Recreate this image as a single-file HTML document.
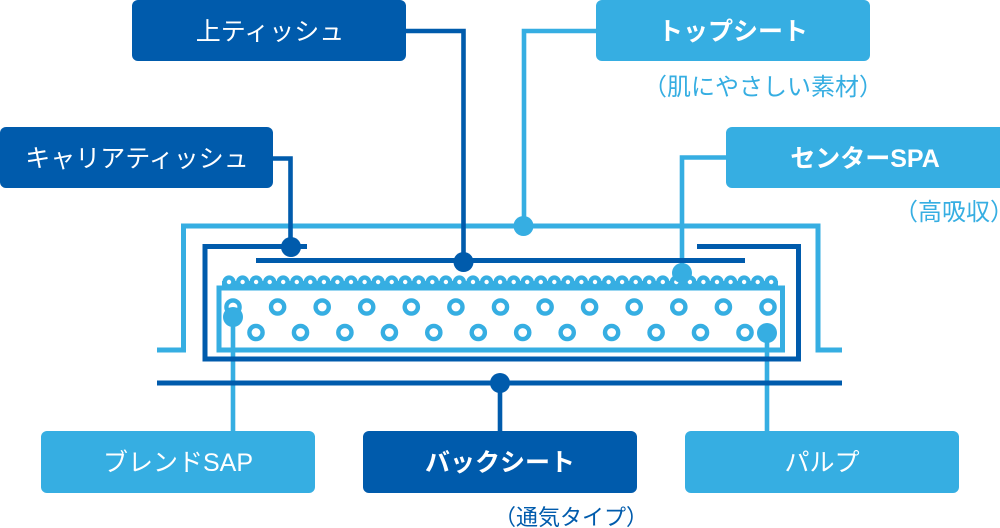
<!DOCTYPE html>
<html>
<head>
<meta charset="utf-8">
<style>
html,body{margin:0;padding:0;background:#fff;}
svg{display:block;}
text{font-family:"Liberation Sans","Noto Sans CJK JP",sans-serif;}
</style>
</head>
<body>
<svg width="1000" height="528" viewBox="0 0 1000 528" xmlns="http://www.w3.org/2000/svg">

<!-- Boxes -->
<rect x="132" y="0" width="274" height="61" rx="6" fill="#005bac"/>
<rect x="0" y="127" width="273" height="61" rx="6" fill="#005bac"/>
<rect x="596" y="0" width="274" height="61" rx="6" fill="#36aee2"/>
<rect x="726" y="127" width="280" height="61" rx="6" fill="#36aee2"/>
<rect x="41" y="431" width="274" height="62" rx="6" fill="#36aee2"/>
<rect x="363" y="431" width="274" height="62" rx="6" fill="#005bac"/>
<rect x="685" y="431" width="274" height="62" rx="6" fill="#36aee2"/>

<!-- Box labels -->
<g font-size="25" fill="#fff" text-anchor="middle">
  <text x="270" y="40">上ティッシュ</text>
  <text x="137" y="167">キャリアティッシュ</text>
  <text x="733" y="40" font-weight="bold">トップシート</text>
  <text x="865" y="167" font-weight="bold">センターSPA</text>
  <text x="178" y="471">ブレンドSAP</text>
  <text x="500" y="471" font-weight="bold">バックシート</text>
  <text x="822" y="471">パルプ</text>
</g>

<!-- Sub labels -->
<text x="643" y="95" font-size="24" fill="#36aee2">（肌にやさしい素材）</text>
<text x="894" y="220" font-size="24" fill="#36aee2">（高吸収）</text>
<text x="494" y="525" font-size="22" fill="#005bac">（通気タイプ）</text>

<!-- Light structural lines: top sheet -->
<polyline points="157,350 183.5,350 183.5,226 818,226 818,350 842,350" fill="none" stroke="#36aee2" stroke-width="5"/>

<!-- Inner container -->
<rect x="219" y="288" width="563.5" height="62" fill="none" stroke="#36aee2" stroke-width="5"/>
<rect x="222" y="281" width="556" height="8" fill="#36aee2"/>

<!-- Light connectors -->
<g fill="none" stroke="#36aee2" stroke-width="4.6">
  <polyline points="596,31 524,31 524,226"/>
  <polyline points="726,157.5 682,157.5 682,273"/>
  <line x1="233" y1="317" x2="233" y2="431"/>
  <line x1="767" y1="333" x2="767" y2="431"/>
</g>

<!-- Dark structural lines -->
<g fill="none" stroke="#005bac" stroke-width="5">
  <polyline points="307,246.5 205,246.5 205,359 798.5,359 798.5,246.5 697,246.5"/>
  <line x1="256" y1="260.5" x2="745" y2="260.5"/>
  <line x1="157" y1="383" x2="842" y2="383"/>
</g>

<!-- Dark connectors -->
<g fill="none" stroke="#005bac" stroke-width="4.6">
  <polyline points="405,31 463.5,31 463.5,262"/>
  <polyline points="273,158.5 290.5,158.5 290.5,247"/>
  <line x1="500" y1="383" x2="500" y2="431"/>
</g>

<!-- Dots -->
<circle cx="291" cy="247" r="10" fill="#005bac"/>
<circle cx="463.5" cy="262" r="10" fill="#005bac"/>
<circle cx="500" cy="383" r="10" fill="#005bac"/>
<circle cx="523.5" cy="226" r="10" fill="#36aee2"/>

<!-- Scallops -->
<g fill="#36aee2">
<circle cx="229.0" cy="282" r="6.6"/><circle cx="242.6" cy="282" r="6.6"/><circle cx="256.1" cy="282" r="6.6"/><circle cx="269.7" cy="282" r="6.6"/><circle cx="283.2" cy="282" r="6.6"/><circle cx="296.8" cy="282" r="6.6"/><circle cx="310.3" cy="282" r="6.6"/><circle cx="323.9" cy="282" r="6.6"/><circle cx="337.4" cy="282" r="6.6"/><circle cx="351.0" cy="282" r="6.6"/><circle cx="364.6" cy="282" r="6.6"/><circle cx="378.1" cy="282" r="6.6"/><circle cx="391.7" cy="282" r="6.6"/><circle cx="405.2" cy="282" r="6.6"/><circle cx="418.8" cy="282" r="6.6"/><circle cx="432.3" cy="282" r="6.6"/><circle cx="445.9" cy="282" r="6.6"/><circle cx="459.4" cy="282" r="6.6"/><circle cx="473.0" cy="282" r="6.6"/><circle cx="486.6" cy="282" r="6.6"/><circle cx="500.1" cy="282" r="6.6"/><circle cx="513.7" cy="282" r="6.6"/><circle cx="527.2" cy="282" r="6.6"/><circle cx="540.8" cy="282" r="6.6"/><circle cx="554.3" cy="282" r="6.6"/><circle cx="567.9" cy="282" r="6.6"/><circle cx="581.4" cy="282" r="6.6"/><circle cx="595.0" cy="282" r="6.6"/><circle cx="608.6" cy="282" r="6.6"/><circle cx="622.1" cy="282" r="6.6"/><circle cx="635.7" cy="282" r="6.6"/><circle cx="649.2" cy="282" r="6.6"/><circle cx="662.8" cy="282" r="6.6"/><circle cx="676.3" cy="282" r="6.6"/><circle cx="689.9" cy="282" r="6.6"/><circle cx="703.4" cy="282" r="6.6"/><circle cx="717.0" cy="282" r="6.6"/><circle cx="730.6" cy="282" r="6.6"/><circle cx="744.1" cy="282" r="6.6"/><circle cx="757.7" cy="282" r="6.6"/><circle cx="771.2" cy="282" r="6.6"/>
</g>
<g fill="#fff">
<circle cx="229.0" cy="282" r="2.2"/><circle cx="242.6" cy="282" r="2.2"/><circle cx="256.1" cy="282" r="2.2"/><circle cx="269.7" cy="282" r="2.2"/><circle cx="283.2" cy="282" r="2.2"/><circle cx="296.8" cy="282" r="2.2"/><circle cx="310.3" cy="282" r="2.2"/><circle cx="323.9" cy="282" r="2.2"/><circle cx="337.4" cy="282" r="2.2"/><circle cx="351.0" cy="282" r="2.2"/><circle cx="364.6" cy="282" r="2.2"/><circle cx="378.1" cy="282" r="2.2"/><circle cx="391.7" cy="282" r="2.2"/><circle cx="405.2" cy="282" r="2.2"/><circle cx="418.8" cy="282" r="2.2"/><circle cx="432.3" cy="282" r="2.2"/><circle cx="445.9" cy="282" r="2.2"/><circle cx="459.4" cy="282" r="2.2"/><circle cx="473.0" cy="282" r="2.2"/><circle cx="486.6" cy="282" r="2.2"/><circle cx="500.1" cy="282" r="2.2"/><circle cx="513.7" cy="282" r="2.2"/><circle cx="527.2" cy="282" r="2.2"/><circle cx="540.8" cy="282" r="2.2"/><circle cx="554.3" cy="282" r="2.2"/><circle cx="567.9" cy="282" r="2.2"/><circle cx="581.4" cy="282" r="2.2"/><circle cx="595.0" cy="282" r="2.2"/><circle cx="608.6" cy="282" r="2.2"/><circle cx="622.1" cy="282" r="2.2"/><circle cx="635.7" cy="282" r="2.2"/><circle cx="649.2" cy="282" r="2.2"/><circle cx="662.8" cy="282" r="2.2"/><circle cx="676.3" cy="282" r="2.2"/><circle cx="689.9" cy="282" r="2.2"/><circle cx="703.4" cy="282" r="2.2"/><circle cx="717.0" cy="282" r="2.2"/><circle cx="730.6" cy="282" r="2.2"/><circle cx="744.1" cy="282" r="2.2"/><circle cx="757.7" cy="282" r="2.2"/><circle cx="771.2" cy="282" r="2.2"/>
</g>

<!-- Rings -->
<g fill="none" stroke="#36aee2" stroke-width="4.4">
<circle cx="233.0" cy="307" r="6.6"/><circle cx="277.6" cy="307" r="6.6"/><circle cx="322.2" cy="307" r="6.6"/><circle cx="366.7" cy="307" r="6.6"/><circle cx="411.3" cy="307" r="6.6"/><circle cx="455.9" cy="307" r="6.6"/><circle cx="500.5" cy="307" r="6.6"/><circle cx="545.1" cy="307" r="6.6"/><circle cx="589.6" cy="307" r="6.6"/><circle cx="634.2" cy="307" r="6.6"/><circle cx="678.8" cy="307" r="6.6"/><circle cx="723.4" cy="307" r="6.6"/><circle cx="768.0" cy="307" r="6.6"/>
<circle cx="256.0" cy="332.5" r="6.6"/><circle cx="300.5" cy="332.5" r="6.6"/><circle cx="344.9" cy="332.5" r="6.6"/><circle cx="389.4" cy="332.5" r="6.6"/><circle cx="433.8" cy="332.5" r="6.6"/><circle cx="478.3" cy="332.5" r="6.6"/><circle cx="522.7" cy="332.5" r="6.6"/><circle cx="567.2" cy="332.5" r="6.6"/><circle cx="611.6" cy="332.5" r="6.6"/><circle cx="656.1" cy="332.5" r="6.6"/><circle cx="700.5" cy="332.5" r="6.6"/><circle cx="745.0" cy="332.5" r="6.6"/>
</g>

<!-- Light dots on top -->
<circle cx="682" cy="273" r="10" fill="#36aee2"/>
<circle cx="233" cy="317" r="10" fill="#36aee2"/>
<circle cx="767" cy="333" r="10" fill="#36aee2"/>
</svg>
</body>
</html>
